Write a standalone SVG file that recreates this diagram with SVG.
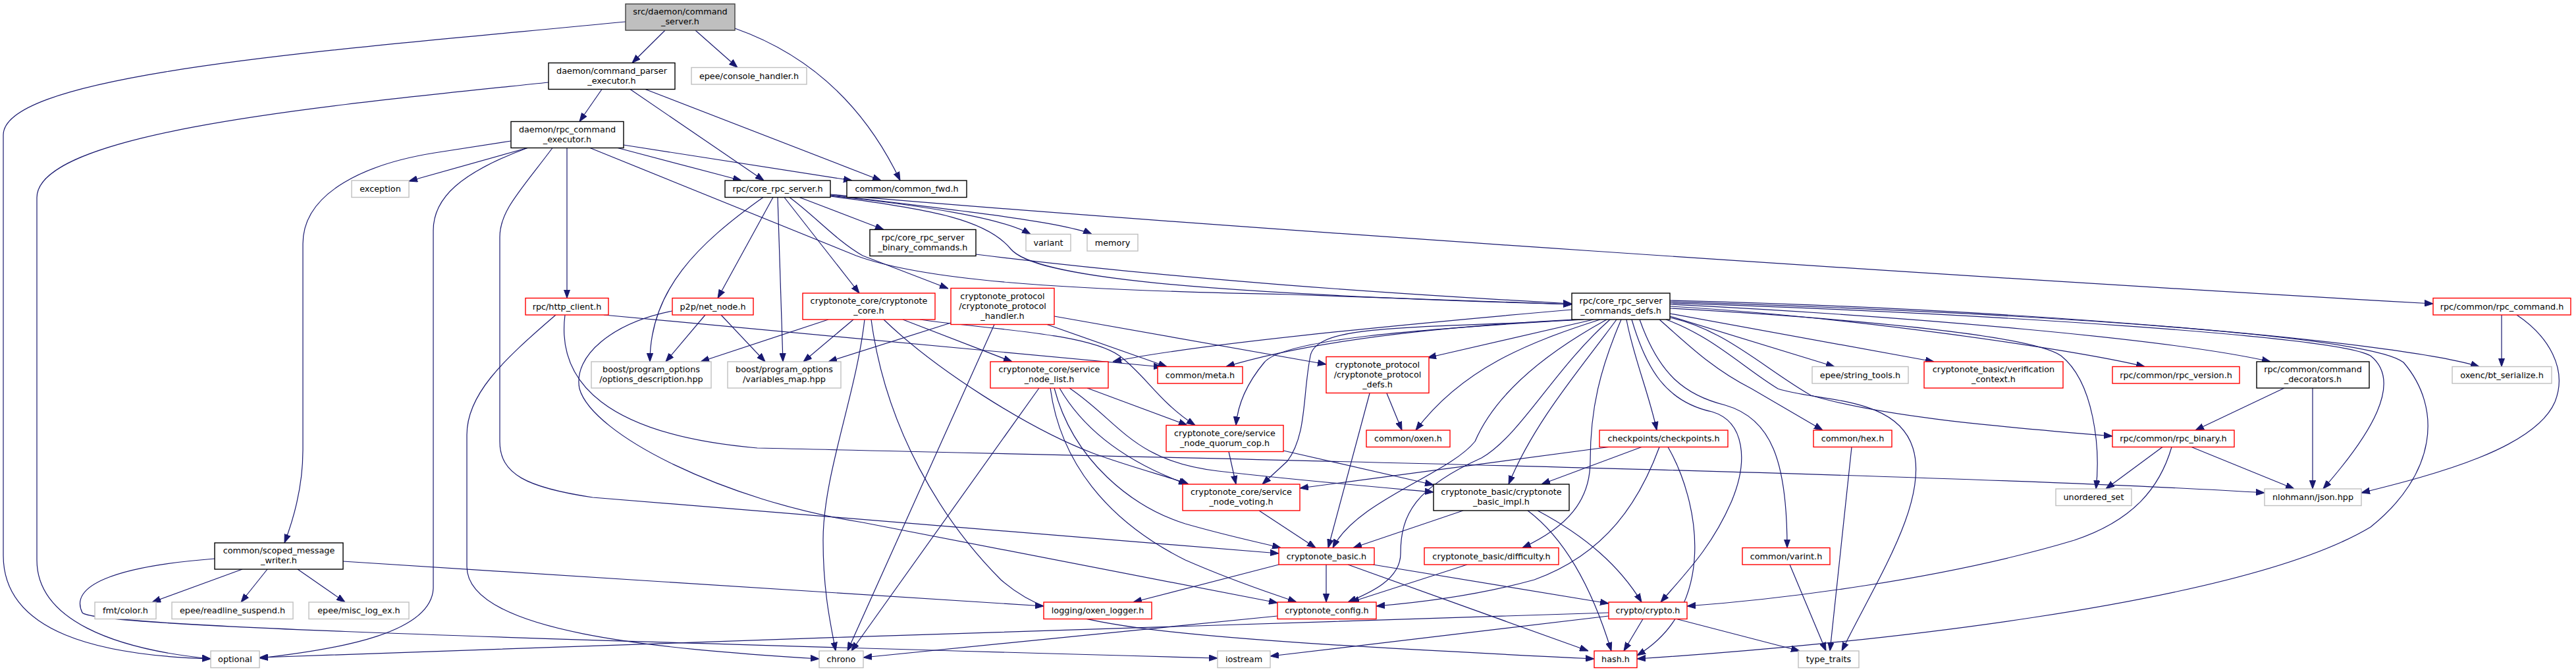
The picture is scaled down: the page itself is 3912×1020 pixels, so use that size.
<svg xmlns="http://www.w3.org/2000/svg" width="3912" height="1020" viewBox="0 0 3912 1020">
<defs>
<marker id="arr" markerUnits="userSpaceOnUse" markerWidth="13" markerHeight="10" viewBox="0 0 13 10" refX="13" refY="5" orient="auto">
<path d="M0,0.3 L13,5 L0,9.7 z" fill="#191970" stroke="#191970" stroke-width="1"/>
</marker>
</defs>
<style>
.e{fill:none;stroke:#191970;stroke-width:1.2;marker-end:url(#arr)}
rect{stroke-width:1.4}
.n{fill:#fff;stroke:#000}
.r{fill:#fff;stroke:#ff0000}
.g{fill:#fff;stroke:#bfbfbf}
.root{fill:#bfbfbf;stroke:#404040}
text{font-family:"DejaVu Sans","Liberation Sans",sans-serif;font-size:12.8px;text-anchor:middle;fill:#000}
</style>
<rect width="3912" height="1020" fill="#fff"/>
<g id="edges">
<path class="e" d="M950,33 C520,75 5,110 5,205 L5,843 C5,960 150,995 320,1000"/>
<path class="e" d="M1010,46 L960,95.5"/>
<path class="e" d="M1056,46 L1120,102.5"/>
<path class="e" d="M1116,43 C1235,85 1315,165 1367,274"/>
<path class="e" d="M833,125 C500,160 56,200 56,300 L56,850 C56,940 170,985 320,1000"/>
<path class="e" d="M914,135.5 L880,184.5"/>
<path class="e" d="M957,135.5 L1160,274"/>
<path class="e" d="M980,135.5 L1338,274"/>
<path class="e" d="M801,224.5 L621,275"/>
<path class="e" d="M776,214 L660,232 C560,248 460,290 460,370 L460,683 C460,740 445,790 432,824"/>
<path class="e" d="M801,224.5 C700,262 658,300 658,350 L658,893 C655,960 520,985 394,999"/>
<path class="e" d="M839,224.5 C790,290 759,320 759,360 L759,670 C759,720 800,740 900,755 L1942,840"/>
<path class="e" d="M861,224.5 L861,452.5"/>
<path class="e" d="M896,224.5 L1300,388 C1400,425 1600,440 1960,447 L2387,462"/>
<path class="e" d="M938,224.5 L1126,274"/>
<path class="e" d="M947,220 L1294,274"/>
<path class="e" d="M1159,299.5 C1060,370 987,440 987,549"/>
<path class="e" d="M1174,299.5 L1090,452.5"/>
<path class="e" d="M1181,299.5 L1189,549"/>
<path class="e" d="M1191,299.5 L1305,445"/>
<path class="e" d="M1199,299.5 C1240,330 1270,365 1310,388 L1440,438"/>
<path class="e" d="M1214,299.5 L1342,348.5"/>
<path class="e" d="M1261,297 C1400,312 1520,330 1565,355.5"/>
<path class="e" d="M1261,296 C1450,318 1620,338 1658,355.5"/>
<path class="e" d="M1261,295 C1800,342 3000,422 3695,461"/>
<path class="e" d="M1261,298 C1420,318 1500,335 1535,378 C1570,420 1800,445 2387,462"/>
<path class="e" d="M1482,386 C1800,425 2100,445 2387,461"/>
<path class="e" d="M844,478 C760,550 709,600 709,660 L709,860 C709,960 1000,985 1244,1000"/>
<path class="e" d="M917,478 C1100,495 1400,525 1765,557"/>
<path class="e" d="M858,478 C845,580 920,660 1150,680 C1800,695 3000,720 3439,748"/>
<path class="e" d="M1071,478 L1011,549"/>
<path class="e" d="M1095,478 L1162,549"/>
<path class="e" d="M1021,472 C930,490 870,540 880,590 C900,660 1100,760 1310,793 L1940,915"/>
<path class="e" d="M1258,485 L1064,549"/>
<path class="e" d="M1296,485 L1220,549"/>
<path class="e" d="M1313,485 C1300,600 1250,720 1250,820 C1250,900 1262,950 1269,988"/>
<path class="e" d="M1323,485 C1345,650 1430,790 1520,880 C1600,950 1700,965 2421,1000"/>
<path class="e" d="M1371,485 L1537,549"/>
<path class="e" d="M1342,485 C1420,560 1560,650 1660,688 C1720,710 1780,725 1805,735"/>
<path class="e" d="M1397,485 C1500,500 1650,505 1700,540 C1740,570 1760,610 1815,645.5"/>
<path class="e" d="M1444,490 L1258,549"/>
<path class="e" d="M1510,492.5 L1287,988"/>
<path class="e" d="M1590,492.5 L1772,556.5"/>
<path class="e" d="M1601,480 L2014,553"/>
<path class="e" d="M1578,589 L1293,988"/>
<path class="e" d="M1595,589 C1610,700 1680,790 1800,850 C1880,885 1930,900 1969,914"/>
<path class="e" d="M1601,589 C1630,700 1720,770 1800,795 C1870,815 1920,825 1945,831.5"/>
<path class="e" d="M1609,589 C1650,660 1720,705 1803,735"/>
<path class="e" d="M1624,589 C1700,640 1720,700 1850,715 C1960,728 2100,740 2177,747"/>
<path class="e" d="M1651,589 L1803,645.5"/>
<path class="e" d="M1866,685.5 L1877,735"/>
<path class="e" d="M1949,684 L2177,736"/>
<path class="e" d="M2387,470 C2100,495 1800,525 1690,549"/>
<path class="e" d="M2390,485 C2200,495 2000,515 1862,556.5"/>
<path class="e" d="M2400,485 C2150,500 1950,515 1920,550 C1895,580 1880,610 1877,645.5"/>
<path class="e" d="M2405,485 C2150,500 2000,490 1990,540 C1978,600 1985,660 1955,700 L1917,735"/>
<path class="e" d="M2420,485 L2168,543"/>
<path class="e" d="M2430,485 C2320,520 2220,560 2150,653"/>
<path class="e" d="M2440,485 C2340,540 2270,600 2240,670 C2200,720 2060,760 2024,831.5"/>
<path class="e" d="M2445,485 C2360,560 2310,660 2250,695 C2150,740 2127,780 2127,840 C2127,880 2080,900 2047,914"/>
<path class="e" d="M2455,485 C2400,560 2330,640 2291,735"/>
<path class="e" d="M2462,485 C2430,560 2415,620 2415,700 C2415,760 2380,800 2312,831.5"/>
<path class="e" d="M2470,485 C2480,540 2505,600 2516,653"/>
<path class="e" d="M2478,485 C2500,560 2530,610 2600,625 C2650,640 2655,700 2630,760 C2600,830 2560,870 2522,914"/>
<path class="e" d="M2490,485 C2520,570 2560,600 2620,615 C2690,635 2714,700 2714,831.5"/>
<path class="e" d="M2536,480 L2786,556.5"/>
<path class="e" d="M2536,476 L2937,549"/>
<path class="e" d="M2530,485 C2600,510 2650,560 2700,590 C2760,610 2880,600 2905,680 C2930,760 2850,880 2797,988"/>
<path class="e" d="M2520,485 C2560,520 2600,560 2660,590 L2768,653"/>
<path class="e" d="M2536,482 C2620,500 2680,560 2750,600 C2850,630 3000,645 3208,662"/>
<path class="e" d="M2536,468 C2750,480 3080,505 3130,540 C3180,580 3190,680 3183,742"/>
<path class="e" d="M2536,465 C2800,480 3150,530 3257,556.5"/>
<path class="e" d="M2536,462 C2900,480 3300,515 3448,549"/>
<path class="e" d="M2536,460 C3000,475 3550,510 3600,540 C3650,580 3600,660 3528,742"/>
<path class="e" d="M2536,458 C3100,475 3600,510 3650,550 C3710,620 3700,720 3600,800 C3400,920 2800,980 2486,1000"/>
<path class="e" d="M2536,456 C3100,470 3650,520 3765,556.5"/>
<path class="e" d="M3799,478 L3799,556.5"/>
<path class="e" d="M3822,478 C3870,510 3900,560 3880,610 C3850,680 3700,720 3586,748"/>
<path class="e" d="M3469,589 L3334,653"/>
<path class="e" d="M3512,589 L3512,742"/>
<path class="e" d="M3284,678.5 L3198,742"/>
<path class="e" d="M3328,678.5 L3484,742"/>
<path class="e" d="M3298,678.5 C3280,740 3240,790 3150,820 C2950,880 2700,910 2562,920"/>
<path class="e" d="M2443,678.5 L1974,741"/>
<path class="e" d="M2493,678.5 L2341,735"/>
<path class="e" d="M2520,678.5 C2490,760 2440,840 2330,880 C2240,905 2150,915 2090,920"/>
<path class="e" d="M2533,678.5 C2580,760 2610,920 2486,995"/>
<path class="e" d="M2222,775 L2055,831.5"/>
<path class="e" d="M2320,775 C2380,820 2420,900 2447,988"/>
<path class="e" d="M2335,775 C2410,815 2460,860 2493,914"/>
<path class="e" d="M1942,857 L1721,914"/>
<path class="e" d="M2014,857 L2014,914"/>
<path class="e" d="M2085,857 L2443,916"/>
<path class="e" d="M2047,857 L2412,988"/>
<path class="e" d="M1912,775 L1998,831.5"/>
<path class="e" d="M2080,597 L2017,831.5"/>
<path class="e" d="M2106,597 L2129,653"/>
<path class="e" d="M2228,857 L2051,914"/>
<path class="e" d="M2443,930 C2000,944 1000,975 394,998"/>
<path class="e" d="M2443,935 L1929,996"/>
<path class="e" d="M2495,939.5 L2466,988"/>
<path class="e" d="M2546,939.5 L2733,988"/>
<path class="e" d="M1940,935 L1311,998"/>
<path class="e" d="M368,864 L231,914"/>
<path class="e" d="M406,864 L366,914"/>
<path class="e" d="M452,864 L524,914"/>
<path class="e" d="M521,852 L1585,920"/>
<path class="e" d="M326,848 C170,860 105,890 125,930 C140,948 600,965 1849,999"/>
<path class="e" d="M2812,678.5 L2779,988"/>
<path class="e" d="M2718,857 L2773,988"/>
</g>
<g id="node-command_server"><rect class="root" x="950" y="6" width="166" height="40"/><text x="1033" y="22">src/daemon/command</text><text x="1033" y="37">_server.h</text></g>
<g id="node-command_parser_executor"><rect class="n" x="833" y="95.5" width="192" height="40"/><text x="929" y="111.5">daemon/command_parser</text><text x="929" y="126.5">_executor.h</text></g>
<g id="node-console_handler"><rect class="g" x="1050" y="102.5" width="175" height="25.5"/><text x="1137.5" y="119.5">epee/console_handler.h</text></g>
<g id="node-rpc_command_executor"><rect class="n" x="776" y="184.5" width="171" height="40"/><text x="861.5" y="200.5">daemon/rpc_command</text><text x="861.5" y="215.5">_executor.h</text></g>
<g id="node-exception"><rect class="g" x="534" y="274" width="87" height="25.5"/><text x="577.5" y="291">exception</text></g>
<g id="node-core_rpc_server"><rect class="n" x="1101" y="274" width="160" height="25.5"/><text x="1181" y="291">rpc/core_rpc_server.h</text></g>
<g id="node-common_fwd"><rect class="n" x="1286" y="274" width="182" height="25.5"/><text x="1377" y="291">common/common_fwd.h</text></g>
<g id="node-binary_commands"><rect class="n" x="1321" y="348.5" width="161" height="40"/><text x="1401.5" y="364.5">rpc/core_rpc_server</text><text x="1401.5" y="379.5">_binary_commands.h</text></g>
<g id="node-variant"><rect class="g" x="1558" y="355.5" width="68" height="25.5"/><text x="1592" y="372.5">variant</text></g>
<g id="node-memory"><rect class="g" x="1651" y="355.5" width="77" height="25.5"/><text x="1689.5" y="372.5">memory</text></g>
<g id="node-http_client"><rect class="r" x="798" y="452.5" width="126" height="25.5"/><text x="861" y="469.5">rpc/http_client.h</text></g>
<g id="node-net_node"><rect class="r" x="1021" y="452.5" width="123" height="25.5"/><text x="1082.5" y="469.5">p2p/net_node.h</text></g>
<g id="node-cryptonote_core"><rect class="r" x="1219" y="445" width="201" height="40"/><text x="1319.5" y="461">cryptonote_core/cryptonote</text><text x="1319.5" y="476">_core.h</text></g>
<g id="node-protocol_handler"><rect class="r" x="1444" y="437.5" width="157" height="55"/><text x="1522.5" y="453.5">cryptonote_protocol</text><text x="1522.5" y="468.5">/cryptonote_protocol</text><text x="1522.5" y="483.5">_handler.h</text></g>
<g id="node-commands_defs"><rect class="n" x="2387" y="445" width="149" height="40"/><text x="2461.5" y="461">rpc/core_rpc_server</text><text x="2461.5" y="476">_commands_defs.h</text></g>
<g id="node-rpc_command"><rect class="r" x="3695" y="452.5" width="209" height="25.5"/><text x="3799.5" y="469.5">rpc/common/rpc_command.h</text></g>
<g id="node-options_description"><rect class="g" x="898" y="549" width="182" height="40"/><text x="989" y="565">boost/program_options</text><text x="989" y="580">/options_description.hpp</text></g>
<g id="node-variables_map"><rect class="g" x="1105" y="549" width="172" height="40"/><text x="1191" y="565">boost/program_options</text><text x="1191" y="580">/variables_map.hpp</text></g>
<g id="node-service_node_list"><rect class="r" x="1504" y="549" width="179" height="40"/><text x="1593.5" y="565">cryptonote_core/service</text><text x="1593.5" y="580">_node_list.h</text></g>
<g id="node-meta"><rect class="r" x="1758" y="556.5" width="129" height="25.5"/><text x="1822.5" y="573.5">common/meta.h</text></g>
<g id="node-protocol_defs"><rect class="r" x="2014" y="541.5" width="156" height="55"/><text x="2092" y="557.5">cryptonote_protocol</text><text x="2092" y="572.5">/cryptonote_protocol</text><text x="2092" y="587.5">_defs.h</text></g>
<g id="node-string_tools"><rect class="g" x="2752" y="556.5" width="146" height="25.5"/><text x="2825" y="573.5">epee/string_tools.h</text></g>
<g id="node-verification_context"><rect class="r" x="2922" y="549" width="211" height="40"/><text x="3027.5" y="565">cryptonote_basic/verification</text><text x="3027.5" y="580">_context.h</text></g>
<g id="node-rpc_version"><rect class="r" x="3208" y="556.5" width="193" height="25.5"/><text x="3304.5" y="573.5">rpc/common/rpc_version.h</text></g>
<g id="node-command_decorators"><rect class="n" x="3427" y="549" width="171" height="40"/><text x="3512.5" y="565">rpc/common/command</text><text x="3512.5" y="580">_decorators.h</text></g>
<g id="node-bt_serialize"><rect class="g" x="3724" y="556.5" width="151" height="25.5"/><text x="3799.5" y="573.5">oxenc/bt_serialize.h</text></g>
<g id="node-quorum_cop"><rect class="r" x="1771" y="645.5" width="178" height="40"/><text x="1860" y="661.5">cryptonote_core/service</text><text x="1860" y="676.5">_node_quorum_cop.h</text></g>
<g id="node-oxen"><rect class="r" x="2075" y="653" width="127" height="25.5"/><text x="2138.5" y="670">common/oxen.h</text></g>
<g id="node-checkpoints"><rect class="r" x="2429" y="653" width="195" height="25.5"/><text x="2526.5" y="670">checkpoints/checkpoints.h</text></g>
<g id="node-hex"><rect class="r" x="2754" y="653" width="119" height="25.5"/><text x="2813.5" y="670">common/hex.h</text></g>
<g id="node-rpc_binary"><rect class="r" x="3208" y="653" width="185" height="25.5"/><text x="3300.5" y="670">rpc/common/rpc_binary.h</text></g>
<g id="node-service_node_voting"><rect class="r" x="1796" y="735" width="178" height="40"/><text x="1885" y="751">cryptonote_core/service</text><text x="1885" y="766">_node_voting.h</text></g>
<g id="node-basic_impl"><rect class="n" x="2177" y="735" width="206" height="40"/><text x="2280" y="751">cryptonote_basic/cryptonote</text><text x="2280" y="766">_basic_impl.h</text></g>
<g id="node-unordered_set"><rect class="g" x="3122" y="742" width="115" height="25.5"/><text x="3179.5" y="759">unordered_set</text></g>
<g id="node-json"><rect class="g" x="3439" y="742" width="147" height="25.5"/><text x="3512.5" y="759">nlohmann/json.hpp</text></g>
<g id="node-scoped_message_writer"><rect class="n" x="326" y="824" width="195" height="40"/><text x="423.5" y="840">common/scoped_message</text><text x="423.5" y="855">_writer.h</text></g>
<g id="node-cryptonote_basic"><rect class="r" x="1942" y="831.5" width="145" height="25.5"/><text x="2014.5" y="848.5">cryptonote_basic.h</text></g>
<g id="node-difficulty"><rect class="r" x="2163" y="831.5" width="204" height="25.5"/><text x="2265" y="848.5">cryptonote_basic/difficulty.h</text></g>
<g id="node-varint"><rect class="r" x="2646" y="831.5" width="133" height="25.5"/><text x="2712.5" y="848.5">common/varint.h</text></g>
<g id="node-fmt_color"><rect class="g" x="144" y="914" width="93" height="25.5"/><text x="190.5" y="931">fmt/color.h</text></g>
<g id="node-readline_suspend"><rect class="g" x="261" y="914" width="184" height="25.5"/><text x="353" y="931">epee/readline_suspend.h</text></g>
<g id="node-misc_log_ex"><rect class="g" x="469" y="914" width="152" height="25.5"/><text x="545" y="931">epee/misc_log_ex.h</text></g>
<g id="node-oxen_logger"><rect class="r" x="1585" y="914" width="164" height="25.5"/><text x="1667" y="931">logging/oxen_logger.h</text></g>
<g id="node-cryptonote_config"><rect class="r" x="1940" y="914" width="150" height="25.5"/><text x="2015" y="931">cryptonote_config.h</text></g>
<g id="node-crypto"><rect class="r" x="2443" y="914" width="119" height="25.5"/><text x="2502.5" y="931">crypto/crypto.h</text></g>
<g id="node-optional"><rect class="g" x="320" y="988" width="74" height="25.5"/><text x="357" y="1005">optional</text></g>
<g id="node-chrono"><rect class="g" x="1244" y="988" width="67" height="25.5"/><text x="1277.5" y="1005">chrono</text></g>
<g id="node-iostream"><rect class="g" x="1849" y="988" width="80" height="25.5"/><text x="1889" y="1005">iostream</text></g>
<g id="node-hash"><rect class="r" x="2421" y="988" width="65" height="25.5"/><text x="2453.5" y="1005">hash.h</text></g>
<g id="node-type_traits"><rect class="g" x="2731" y="988" width="92" height="25.5"/><text x="2777" y="1005">type_traits</text></g>
</svg>
